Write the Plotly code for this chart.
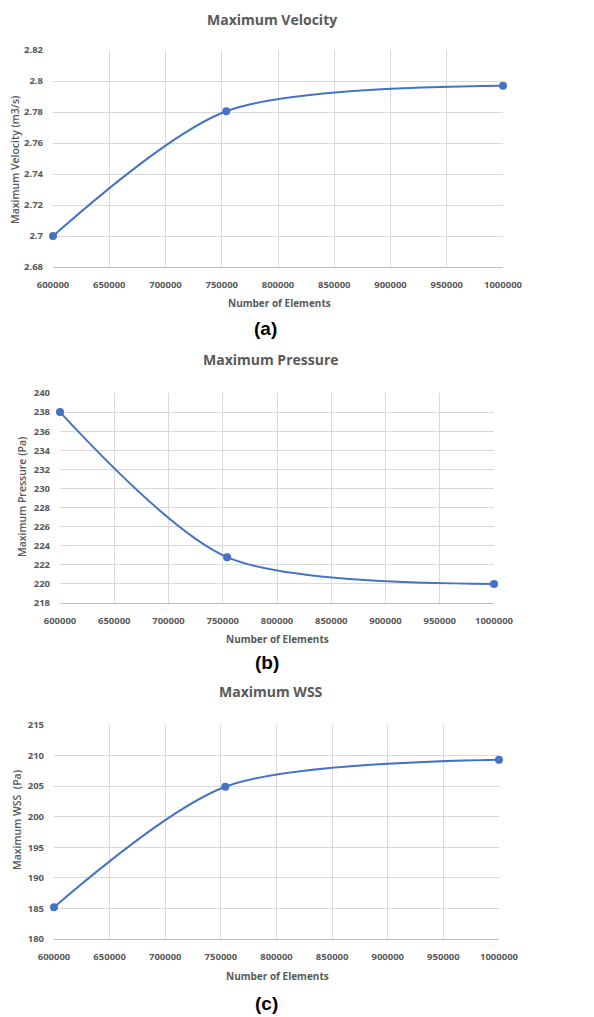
import plotly.graph_objects as go

W, H = 594, 1017
OFF = 8  # page body margin
FW, FH = W - OFF, H - OFF

elements = [600000, 754000, 1000000]
velocity = [2.700, 2.7805, 2.797]
pressure = [238.0, 222.8, 220.0]
wss = [185.2, 204.9, 209.3]

x_ticks = [600000, 650000, 700000, 750000, 800000, 850000, 900000, 950000, 1000000]
vel_ticks = [2.68, 2.70, 2.72, 2.74, 2.76, 2.78, 2.80, 2.82]
vel_ticktext = ["2.68", "2.7", "2.72", "2.74", "2.76", "2.78", "2.8", "2.82"]
pres_ticks = [218, 220, 222, 224, 226, 228, 230, 232, 234, 236, 238, 240]
wss_ticks = [180, 185, 190, 195, 200, 205, 210, 215]

titles = ["Maximum Velocity", "Maximum Pressure", "Maximum WSS"]
y_titles = ["Maximum Velocity (m3/s)", "Maximum Pressure (Pa)", "Maximum WSS  (Pa)"]
x_title = "Number of Elements"
labels = ["(a)", "(b)", "(c)"]

GREY = "#595959"
LINE = "#4472C4"
FONT = "Open Sans"

# panel geometry in page pixels: (left, right, top, bottom)
panels = [(53, 503, 50, 267), (60, 494, 393, 603), (54, 499, 725, 939)]
title_pos = [(272, 16), (271, 359), (271, 691)]
xtitle_pos = [(279, 303), (277, 639), (277, 976)]
label_pos = [(265, 328), (267, 662), (266, 1003)]
ytitle_pos = [(15, 160), (22, 497), (17, 820)]


def px(x):
    return (x - OFF) / FW


def py(y):
    return 1 - (y - OFF) / FH


fig = go.Figure()
series = [velocity, pressure, wss]
yticks = [(vel_ticks, vel_ticktext), (pres_ticks, [str(v) for v in pres_ticks]),
          (wss_ticks, [str(v) for v in wss_ticks])]

for i in range(3):
    l, r, t, b = panels[i]
    xa = "x" if i == 0 else f"x{i+1}"
    ya = "y" if i == 0 else f"y{i+1}"
    fig.add_trace(go.Scatter(
        x=elements, y=series[i], mode="lines+markers",
        line=dict(color=LINE, width=2, shape="spline", smoothing=0.8),
        marker=dict(color=LINE, size=8),
        xaxis=xa, yaxis=ya, cliponaxis=False, showlegend=False))
    axk = "xaxis" if i == 0 else f"xaxis{i+1}"
    ayk = "yaxis" if i == 0 else f"yaxis{i+1}"
    tv, tt = yticks[i]
    fig.layout[axk] = dict(
        domain=[px(l), px(r)], anchor=ya, range=[x_ticks[0], x_ticks[-1]],
        tickvals=x_ticks, ticktext=[str(v) for v in x_ticks], automargin=False,
        showgrid=True, gridcolor="#d9d9d9", gridwidth=1,
        showline=True, linecolor="#bfbfbf", linewidth=1, zeroline=False,
        ticks="", tickfont=dict(family=FONT, size=9.5, color=GREY, weight="bold"),
        ticklabelstandoff=9)
    fig.layout[ayk] = dict(
        domain=[py(b), py(t)], anchor=xa, range=[tv[0], tv[-1]],
        tickvals=tv, ticktext=tt, automargin=False,
        showgrid=True, gridcolor="#d9d9d9", gridwidth=1,
        showline=False, zeroline=False, ticks="", ticklabelstandoff=9,
        tickfont=dict(family=FONT, size=9.5, color=GREY, weight="bold"))
    if i == 0:
        fig.add_annotation(text=titles[i], x=px(title_pos[i][0]), y=1.0,
                           xref="paper", yref="paper", showarrow=False,
                           xanchor="center", yanchor="top",
                           font=dict(family=FONT, size=14, color=GREY, weight="bold"))
    else:
        fig.add_annotation(text=titles[i], x=px(title_pos[i][0]), y=py(title_pos[i][1]),
                           xref="paper", yref="paper", showarrow=False,
                           xanchor="center", yanchor="middle",
                           font=dict(family=FONT, size=14, color=GREY, weight="bold"))
    fig.add_annotation(text=x_title, x=px(xtitle_pos[i][0]), y=py(xtitle_pos[i][1]),
                       xref="paper", yref="paper", showarrow=False,
                       xanchor="center", yanchor="middle",
                       font=dict(family=FONT, size=10, color=GREY, weight="bold"))
    fig.add_annotation(text=labels[i], x=px(label_pos[i][0]), y=py(label_pos[i][1]),
                       xref="paper", yref="paper", showarrow=False,
                       xanchor="center", yanchor="middle",
                       font=dict(family="Liberation Sans", size=19, color="black", weight="bold"))
    fig.add_annotation(text=y_titles[i], x=px(ytitle_pos[i][0]), y=py(ytitle_pos[i][1]),
                       xref="paper", yref="paper", showarrow=False, textangle=-90,
                       xanchor="center", yanchor="middle",
                       font=dict(family=FONT, size=10.5, color=GREY, weight=600))

fig.update_layout(width=FW, height=FH, margin=dict(l=0, r=0, t=0, b=0, autoexpand=False),
                  paper_bgcolor="white", plot_bgcolor="white")
fig.write_html("out.html")
